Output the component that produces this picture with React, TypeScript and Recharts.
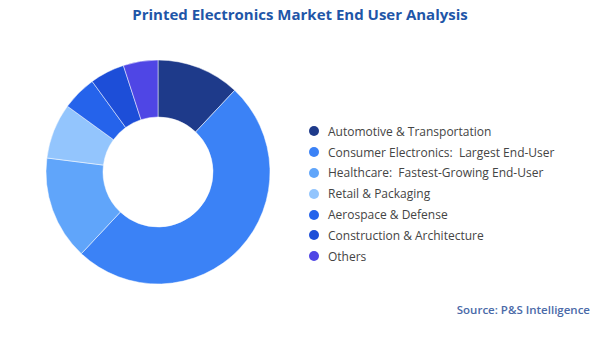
import React from 'react';
import { PieChart, Pie, Cell, Legend } from 'recharts';

const segments = [
  'Automotive & Transportation',
  'Consumer Electronics:  Largest End-User',
  'Healthcare:  Fastest-Growing End-User',
  'Retail & Packaging',
  'Aerospace & Defense',
  'Construction & Architecture',
  'Others',
];
const shares = [12, 50, 15, 8, 5, 5, 5];
const colors = ['#1e3a8a', '#3b82f6', '#60a5fa', '#93c5fd', '#2563eb', '#1d4ed8', '#4f46e5'];

const data = segments.map((name, i) => ({ name, value: shares[i] }));

const font = '"Open Sans", "Noto Sans", sans-serif';

const LegendList = () => (
  <div style={{ fontFamily: font, fontSize: 12, color: '#444' }}>
    {segments.map((name, i) => (
      <div key={name} style={{ display: 'flex', alignItems: 'center', height: 20.8 }}>
        <span
          style={{
            display: 'inline-block',
            width: 10,
            height: 10,
            borderRadius: '50%',
            background: colors[i],
            marginRight: 9,
          }}
        />
        <span style={{ whiteSpace: 'pre' }}>{name}</span>
      </div>
    ))}
  </div>
);

const App = () => {
  return (
    <div style={{ position: 'absolute', left: 0, top: 0, width: 600, height: 337, background: '#fff' }}>
      <div
        style={{
          position: 'absolute',
          top: 4,
          left: 0,
          width: 600,
          textAlign: 'center',
          fontFamily: font,
          fontWeight: 700,
          fontSize: 15,
          color: '#1f56a8',
        }}
      >
        Printed Electronics Market End User Analysis
      </div>
      <PieChart width={600} height={337} margin={{ top: 0, right: 0, bottom: 0, left: 0 }}>
        <Pie
          data={data}
          dataKey="value"
          nameKey="name"
          cx={158}
          cy={172}
          innerRadius={55}
          outerRadius={112}
          startAngle={90}
          endAngle={-270}
          stroke="#fff"
          strokeWidth={0.5}
          isAnimationActive={false}
        >
          {data.map((d, i) => (
            <Cell key={d.name} fill={colors[i]} />
          ))}
        </Pie>
        <Legend
          content={() => <LegendList />}
          wrapperStyle={{ position: 'absolute', left: 309, top: 121, width: 280 }}
        />
      </PieChart>
      <div
        style={{
          position: 'absolute',
          right: 10,
          top: 302,
          fontFamily: font,
          fontWeight: 600,
          fontSize: 11.5,
          color: '#4a6aa8',
        }}
      >
        Source: P&amp;S Intelligence
      </div>
    </div>
  );
};

export default App;
